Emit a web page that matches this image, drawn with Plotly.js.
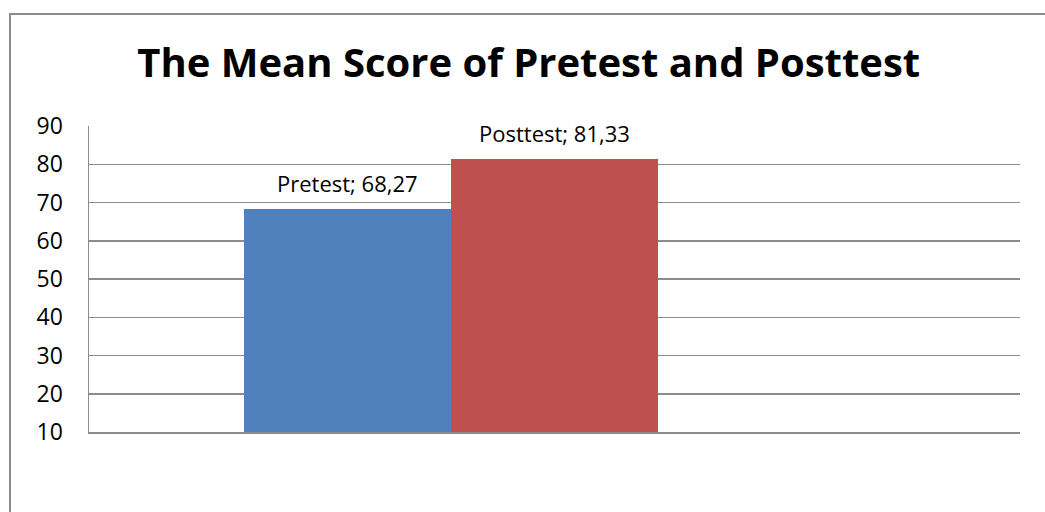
<!DOCTYPE html>
<html>
<head>
<meta charset="utf-8">
<script src="https://cdn.plot.ly/plotly-3.0.1.min.js"></script>
<style>
html,body{margin:0;padding:0;background:#fff;overflow:hidden;}
#frame{position:absolute;left:9px;top:13px;width:1100px;height:600px;border-left:2px solid #8c8c8c;border-top:2px solid #8c8c8c;box-sizing:border-box;}
#chart{position:absolute;left:0;top:0;width:1045px;height:512px;}
</style>
</head>
<body>
<div id="frame"></div>
<div id="chart"></div>
<script>
const categories = [""];
const seriesNames = ["Pretest", "Posttest"];
const pretestValues = [68.27];
const posttestValues = [81.33];
const seriesColors = ["#4F81BD", "#C0504D"];
const yTickValues = [10, 20, 30, 40, 50, 60, 70, 80, 90];

const labelFont = {family: "Open Sans, sans-serif", size: 22, color: "#000"};
const allValues = [pretestValues, posttestValues];

const traces = seriesNames.map((name, i) => ({
  type: "bar", name: name, x: categories, y: allValues[i],
  marker: {color: seriesColors[i]}, hoverinfo: "none"
}));

// data labels: "<series>; <value>" with a decimal comma, placed above each bar
const annotations = [];
seriesNames.forEach((name, i) => {
  const offset = (i - (seriesNames.length - 1) / 2) / seriesNames.length;
  allValues[i].forEach((v, j) => {
    annotations.push({
      x: j + offset, y: v, xref: "x", yref: "y",
      text: name + "; " + v.toFixed(2).replace(".", ","),
      showarrow: false, xanchor: "center", yanchor: "bottom", yshift: 9,
      font: labelFont
    });
  });
});

const layout = {
  width: 1045, height: 512,
  paper_bgcolor: "rgba(0,0,0,0)", plot_bgcolor: "rgba(0,0,0,0)",
  margin: {l: 89, r: 25, t: 126, b: 80},
  separators: ",.",
  barmode: "group", bargap: 0, bargroupgap: 0,
  showlegend: false,
  annotations: annotations,
  title: {text: "<b>The Mean Score of Pretest and Posttest</b>",
          font: {family: "Open Sans, sans-serif", size: 40, color: "#000"},
          x: 0.506, xanchor: "center", y: 0.877, yanchor: "middle"},
  xaxis: {type: "category", range: [-0.8744, 1.3744], showticklabels: false,
          showgrid: false, zeroline: false, showline: true, linecolor: "#8c8c8c", linewidth: 1.5,
          ticks: ""},
  yaxis: {range: [10, 90], tickvals: yTickValues, showgrid: true, gridcolor: "#8c8c8c", gridwidth: 1.5,
          zeroline: false, showline: true, linecolor: "#8c8c8c", linewidth: 1.5,
          ticks: "", ticklabelstandoff: 20,
          tickfont: {family: "Open Sans, sans-serif", size: 23, color: "#000"}}
};

Plotly.newPlot("chart", traces, layout, {displayModeBar: false, staticPlot: true});
</script>
</body>
</html>
